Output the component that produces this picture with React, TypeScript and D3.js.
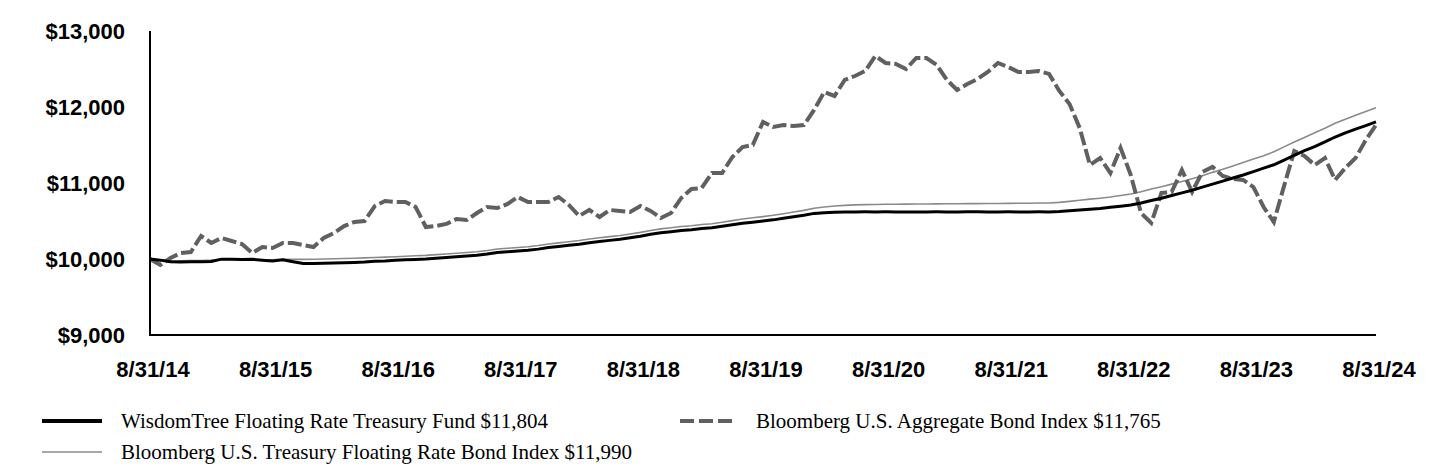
import React from "react";
import * as d3 from "d3";

// monthly values, 8/31/14 .. 8/31/24 (121 points)
const fundValues = [
  10000, 9985, 9965, 9962, 9963, 9965, 9968, 9998, 9996, 9995, 9996, 9985,
  9975, 9990, 9965, 9940, 9942, 9945, 9948, 9952, 9955, 9960, 9970, 9975,
  9985, 9990, 9995, 10000, 10010, 10020, 10030, 10040, 10050, 10065, 10085, 10095,
  10105, 10115, 10130, 10150, 10165, 10180, 10195, 10215, 10230, 10245, 10260, 10280,
  10300, 10325, 10345, 10360, 10375, 10385, 10400, 10410, 10430, 10450, 10470, 10485,
  10500, 10515, 10535, 10555, 10575, 10600, 10610, 10615, 10618, 10620, 10621, 10620,
  10621, 10620, 10620, 10619, 10620, 10621, 10620, 10620, 10621, 10621, 10620, 10620,
  10621, 10620, 10620, 10621, 10620, 10625, 10635, 10645, 10655, 10665, 10680, 10695,
  10710, 10737, 10770, 10800, 10835, 10870, 10905, 10945, 10985, 11025, 11065, 11105,
  11150, 11195, 11240, 11300, 11365, 11425, 11480, 11540, 11605, 11660, 11710, 11755,
  11804,
];

const floatIndexValues = [
  10000, 9990, 9975, 9975, 9978, 9980, 9985, 9995, 9995, 9995, 9995, 9990,
  9990, 9995, 9995, 9995, 9997, 10000, 10003, 10007, 10010, 10015, 10020, 10025,
  10030, 10037, 10043, 10048, 10057, 10066, 10076, 10086, 10096, 10111, 10131, 10141,
  10151, 10162, 10177, 10197, 10212, 10228, 10243, 10263, 10279, 10294, 10310, 10330,
  10350, 10376, 10396, 10411, 10427, 10437, 10453, 10463, 10484, 10505, 10526, 10542,
  10558, 10575, 10596, 10618, 10640, 10668, 10685, 10697, 10705, 10712, 10716, 10718,
  10720, 10721, 10722, 10723, 10724, 10725, 10726, 10727, 10728, 10729, 10730, 10731,
  10732, 10733, 10734, 10736, 10737, 10745, 10758, 10772, 10788, 10800, 10815, 10835,
  10855, 10885, 10920, 10950, 10985, 11020, 11055, 11095, 11140, 11180, 11225, 11270,
  11315, 11360, 11410, 11475, 11540, 11600, 11660, 11720, 11785, 11840, 11890, 11940,
  11990,
];

const aggIndexValues = [
  10000, 9921, 10013, 10079, 10092, 10303, 10211, 10276, 10237, 10197, 10079, 10158,
  10145, 10211, 10211, 10184, 10158, 10276, 10342, 10434, 10487, 10500, 10697, 10763,
  10750, 10750, 10684, 10421, 10434, 10461, 10526, 10513, 10605, 10684, 10671, 10724,
  10816, 10750, 10750, 10750, 10816, 10711, 10566, 10645, 10553, 10645, 10632, 10618,
  10697, 10632, 10540, 10605, 10803, 10921, 10934, 11132, 11132, 11342, 11474, 11500,
  11803, 11737, 11763, 11750, 11763, 11961, 12198, 12145, 12356, 12408, 12474, 12671,
  12579, 12566, 12500, 12645, 12645, 12553, 12356, 12224, 12303, 12369, 12461, 12579,
  12527, 12461, 12461, 12474, 12435, 12211, 12040, 11724, 11237, 11329, 11132, 11461,
  11105, 10605, 10474, 10869, 10882, 11171, 10882, 11145, 11211, 11092, 11053, 11040,
  10947, 10684, 10487, 10961, 11421, 11355, 11237, 11329, 11040, 11198, 11329, 11566,
  11765,
];

const xTickLabels = [
  "8/31/14", "8/31/15", "8/31/16", "8/31/17", "8/31/18", "8/31/19",
  "8/31/20", "8/31/21", "8/31/22", "8/31/23", "8/31/24",
];
const yTicks = [9000, 10000, 11000, 12000, 13000];

const seriesNames = [
  "WisdomTree Floating Rate Treasury Fund $11,804",
  "Bloomberg U.S. Aggregate Bond Index $11,765",
  "Bloomberg U.S. Treasury Floating Rate Bond Index $11,990",
];

const W = 1440;
const H = 468;
const left = 150;
const right = 1376;
const top = 31;
const bottom = 335;

const tickFont = "'Liberation Sans', Arial, sans-serif";
const legendFont = "'Liberation Serif', 'Times New Roman', serif";

export default function App() {
  const x = d3.scaleLinear().domain([0, 120]).range([left, right]);
  const y = d3.scaleLinear().domain([9000, 13000]).range([bottom, top]);

  const line = d3
    .line<number>()
    .x((d, i) => x(i))
    .y((d) => y(d));

  const fmt = (v: number) => "$" + d3.format(",")(v);

  return (
    <svg
      width={W}
      height={H}
      style={{ position: "absolute", left: 0, top: 0, background: "#fff" }}
    >
      {/* y labels */}
      {yTicks.map((t) => (
        <text
          key={t}
          x={125}
          y={y(t)}
          dy="0.35em"
          textAnchor="end"
          fontFamily={tickFont}
          fontWeight="bold"
          fontSize={22}
          fill="#000"
        >
          {fmt(t)}
        </text>
      ))}

      {/* x labels */}
      {xTickLabels.map((lab, i) => (
        <text
          key={lab}
          x={x(i * 12) + 3}
          y={377}
          textAnchor="middle"
          fontFamily={tickFont}
          fontWeight="bold"
          fontSize={22}
          fill="#000"
        >
          {lab}
        </text>
      ))}

      {/* series */}
      <path
        d={line(floatIndexValues) || ""}
        fill="none"
        stroke="#8a8a8a"
        strokeWidth={1.6}
      />
      <path
        d={line(aggIndexValues) || ""}
        fill="none"
        stroke="#606060"
        strokeWidth={4}
        strokeDasharray="14,4"
      />
      <path
        d={line(fundValues) || ""}
        fill="none"
        stroke="#000"
        strokeWidth={3}
      />

      {/* axes */}
      <line x1={left} x2={left} y1={top} y2={bottom + 1} stroke="#000" strokeWidth={2} />
      <line x1={left - 1} x2={right} y1={bottom} y2={bottom} stroke="#000" strokeWidth={2} />

      {/* legend */}
      <line x1={42} x2={102} y1={421} y2={421} stroke="#000" strokeWidth={4} />
      <text x={121} y={421} dy="0.33em" fontFamily={legendFont} fontSize={21} fill="#000">
        {seriesNames[0]}
      </text>

      <line
        x1={680}
        x2={736}
        y1={421}
        y2={421}
        stroke="#606060"
        strokeWidth={4}
        strokeDasharray="14,5"
      />
      <text x={756} y={421} dy="0.33em" fontFamily={legendFont} fontSize={21} fill="#000">
        {seriesNames[1]}
      </text>

      <line x1={42} x2={102} y1={452} y2={452} stroke="#8a8a8a" strokeWidth={1.6} />
      <text x={121} y={452} dy="0.33em" fontFamily={legendFont} fontSize={21} fill="#000">
        {seriesNames[2]}
      </text>
    </svg>
  );
}
